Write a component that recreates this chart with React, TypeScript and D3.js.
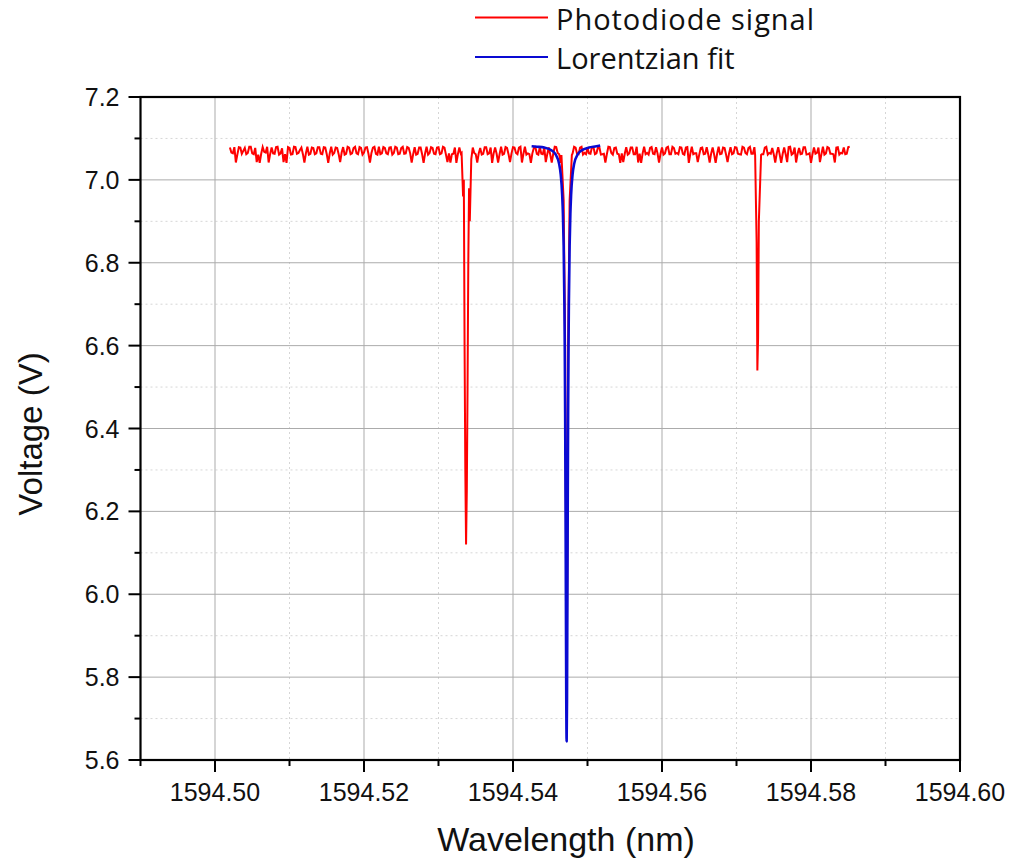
import React from "react";
import * as d3 from "d3";

// ---------- DATA ----------
// Photodiode signal baseline, sweep A: samples every 0.0004 nm starting at 1594.5020 nm
const signalStart = 1594.502;
const signalStep = 0.0004;
const signalValues: number[] = [
  7.078, 7.064, 7.042, 7.079, 7.063, 7.077, 7.065, 7.080, 7.062, 7.043,
  7.041, 7.079, 7.066, 7.042, 7.078, 7.063, 7.080, 7.064, 7.043, 7.041,
  7.077, 7.062, 7.079, 7.065, 7.078, 7.042, 7.080, 7.063, 7.077, 7.064,
  7.079, 7.062, 7.078, 7.041, 7.080, 7.065, 7.077, 7.043, 7.079, 7.063,
  7.078, 7.064, 7.080, 7.062, 7.077, 7.066, 7.079, 7.042, 7.078, 7.063,
  7.080, 7.064, 7.077, 7.062, 7.079, 7.065, 7.078, 7.063, 7.080, 7.064,
  7.077, 7.042, 7.079, 7.063, 7.078, 7.041, 7.080, 7.065, 7.077, 7.062,
  7.079, 7.064, 7.078, 7.043, 7.042, 7.063, 7.041, 7.078, 7.064, 7.079,
  7.062, 7.080, 7.065, 7.042, 7.077, 7.063, 7.079, 7.064, 7.041, 7.078,
  7.042, 7.080, 7.063, 7.077, 7.043, 7.079, 7.065, 7.078, 7.042, 7.080,
  7.064, 7.041, 7.077, 7.063, 7.079, 7.062, 7.043, 7.078, 7.042, 7.080,
  7.065, 7.041, 7.077, 7.063, 7.079, 7.064, 7.078, 7.062, 7.080, 7.065,
  7.077, 7.063, 7.079, 7.064, 7.078, 7.062, 7.042, 7.080, 7.065, 7.077,
  7.063, 7.041, 7.043, 7.079, 7.064, 7.078, 7.062, 7.042, 7.041, 7.080,
  7.065, 7.077, 7.063, 7.079, 7.042, 7.078, 7.064, 7.080, 7.062, 7.077,
  7.065, 7.079, 7.063, 7.078, 7.041, 7.080, 7.064, 7.043, 7.077, 7.062,
  7.079, 7.042, 7.078, 7.041, 7.080, 7.063, 7.077, 7.043, 7.079, 7.064,
  7.078, 7.062, 7.080, 7.065, 7.077, 7.063, 7.079, 7.064, 7.078, 7.062,
  7.080, 7.065, 7.077, 7.042, 7.079, 7.041, 7.078, 7.043, 7.080, 7.064,
  7.042, 7.077, 7.063, 7.079, 7.062, 7.041, 7.078, 7.065, 7.043, 7.080,
  7.064, 7.077, 7.063, 7.042, 7.079, 7.065, 7.078, 7.063, 7.080,
];
// Sweep B: interleaved samples, starting at 1594.5022 nm, same step
const signalStartB = 1594.5022;
const signalValuesB: number[] = [
  7.066, 7.079, 7.061, 7.078, 7.070, 7.062, 7.080, 7.064, 7.077, 7.061,
  7.063, 7.068, 7.080, 7.062, 7.064, 7.079, 7.061, 7.076, 7.062, 7.079,
  7.061, 7.080, 7.063, 7.072, 7.062, 7.064, 7.061, 7.078, 7.062, 7.079,
  7.063, 7.079, 7.062, 7.064, 7.061, 7.078, 7.062, 7.066, 7.061, 7.080,
  7.062, 7.077, 7.064, 7.079, 7.061, 7.078, 7.063, 7.065, 7.080, 7.061,
  7.062, 7.079, 7.064, 7.078, 7.061, 7.080, 7.062, 7.077, 7.063, 7.079,
  7.064, 7.062, 7.061, 7.078, 7.062, 7.064, 7.061, 7.079, 7.063, 7.078,
  7.062, 7.080, 7.061, 7.064, 7.062, 7.078, 7.062, 7.063, 7.061, 7.080,
  7.063, 7.078, 7.062, 7.064, 7.061, 7.079, 7.062, 7.078, 7.064, 7.063,
  7.062, 7.061, 7.079, 7.062, 7.064, 7.078, 7.062, 7.080, 7.063, 7.061,
  7.062, 7.064, 7.079, 7.061, 7.063, 7.078, 7.062, 7.061, 7.063, 7.079,
  7.062, 7.064, 7.061, 7.078, 7.062, 7.080, 7.063, 7.078, 7.061, 7.062,
  7.064, 7.079, 7.062, 7.078, 7.061, 7.063, 7.062, 7.079, 7.061, 7.078,
  7.062, 7.064, 7.063, 7.061, 7.078, 7.062, 7.080, 7.063, 7.064, 7.062,
  7.061, 7.079, 7.062, 7.064, 7.063, 7.061, 7.078, 7.062, 7.080, 7.063,
  7.062, 7.078, 7.061, 7.079, 7.063, 7.062, 7.064, 7.061, 7.078, 7.063,
  7.062, 7.064, 7.061, 7.063, 7.062, 7.078, 7.061, 7.064, 7.062, 7.079,
  7.063, 7.061, 7.078, 7.062, 7.080, 7.063, 7.061, 7.079, 7.062, 7.078,
  7.061, 7.063, 7.062, 7.064, 7.061, 7.063, 7.062, 7.079, 7.061, 7.078,
  7.063, 7.062, 7.079, 7.061, 7.064, 7.062, 7.063, 7.078, 7.062, 7.061,
  7.079, 7.063, 7.062, 7.078, 7.061, 7.064, 7.062, 7.079,
];

// Resonance dips in the photodiode signal: [wavelength nm, voltage V]
const dip1: [number, number][] = [
  [1594.5331, 7.065], [1594.5333, 6.96], [1594.5334, 7.0], [1594.5335, 6.6],
  [1594.5336, 6.3], [1594.5337, 6.12], [1594.5338, 6.25], [1594.5339, 6.5],
  [1594.534, 6.8], [1594.5341, 6.98], [1594.5342, 6.9], [1594.5344, 7.05],
];
const dip2: [number, number][] = [
  [1594.5465, 7.06], [1594.5468, 6.95], [1594.547, 6.6], [1594.5471, 6.2],
  [1594.5472, 5.75], [1594.5473, 6.1], [1594.5474, 6.6], [1594.5476, 6.95],
  [1594.5479, 7.06],
];
const dip3: [number, number][] = [
  [1594.5725, 7.06], [1594.5727, 6.85], [1594.5728, 6.54], [1594.5729, 6.62],
  [1594.573, 6.9], [1594.5733, 7.06],
];

// Lorentzian fit curve points: [wavelength nm, voltage V]
const fitPoints: [number, number][] = [
  [1594.5425, 7.081], [1594.5432, 7.08], [1594.5442, 7.078], [1594.5452, 7.071],
  [1594.5457, 7.062], [1594.5462, 7.038], [1594.5464, 7.014], [1594.5466, 6.964],
  [1594.5467, 6.918], [1594.5468, 6.841], [1594.5469, 6.702], [1594.54695, 6.591],
  [1594.547, 6.439], [1594.54705, 6.233], [1594.5471, 5.983], [1594.54715, 5.746],
  [1594.5472, 5.645],
  [1594.54725, 5.746], [1594.5473, 5.983], [1594.54735, 6.233], [1594.5474, 6.439],
  [1594.54745, 6.591], [1594.5475, 6.702], [1594.5476, 6.841], [1594.5477, 6.918],
  [1594.5478, 6.964], [1594.548, 7.014], [1594.5482, 7.038], [1594.5487, 7.062],
  [1594.5492, 7.071], [1594.5502, 7.078], [1594.5512, 7.081], [1594.5517, 7.083],
];

const xMajorTicks = [1594.5, 1594.52, 1594.54, 1594.56, 1594.58, 1594.6];
const xMinorTicks = [1594.49, 1594.51, 1594.53, 1594.55, 1594.57, 1594.59];
const yMajorTicks = [5.6, 5.8, 6.0, 6.2, 6.4, 6.6, 6.8, 7.0, 7.2];
const yMinorTicks = [5.7, 5.9, 6.1, 6.3, 6.5, 6.7, 6.9, 7.1];

const seriesNames = ["Photodiode signal", "Lorentzian fit"];
const seriesColors = ["#ff0000", "#0a0ad2"];

// ---------- CHART ----------
const W = 1013;
const H = 861;
const L = 140.5, R = 960, T = 97, B = 760;

export default function App() {
  const x = d3.scaleLinear().domain([1594.49, 1594.6]).range([L, R]);
  const y = d3.scaleLinear().domain([5.6, 7.2]).range([B, T]);

  const dips = [dip1, dip2, dip3];
  const inDip = (w: number) =>
    dips.some((d) => w > d[0][0] - 1e-7 && w < d[d.length - 1][0] + 1e-7);
  const sweepA: [number, number][] = signalValues.map(
    (v, i) => [signalStart + i * signalStep, v] as [number, number]
  );
  const sweepB: [number, number][] = signalValuesB.map(
    (v, i) => [signalStartB + i * signalStep, v] as [number, number]
  );
  const signal = sweepA
    .concat(sweepB)
    .filter(([w]) => !inDip(w))
    .concat(dip1, dip2, dip3)
    .sort((a, b) => a[0] - b[0]);

  const lineLinear = d3.line<[number, number]>().x((d) => x(d[0])).y((d) => y(d[1]));
  const lineSmooth = d3
    .line<[number, number]>()
    .x((d) => x(d[0]))
    .y((d) => y(d[1]))
    .curve(d3.curveMonotoneX);

  const axisFont = "'Liberation Sans', Arial, sans-serif";

  return (
    <svg width={W} height={H} style={{ position: "absolute", left: 0, top: 0, background: "#fff" }}>
      <rect x={0} y={0} width={W} height={H} fill="#fff" />
      {/* minor grid */}
      <g stroke="#d6d6d6" strokeWidth={1} strokeDasharray="2,3">
        {xMinorTicks.filter((t) => x(t) > L + 2).map((t) => (
          <line key={"xm" + t} x1={x(t)} x2={x(t)} y1={T} y2={B} />
        ))}
        {yMinorTicks.map((t) => (
          <line key={"ym" + t} x1={L} x2={R} y1={y(t)} y2={y(t)} />
        ))}
      </g>
      {/* major grid */}
      <g stroke="#ababab" strokeWidth={1}>
        {xMajorTicks.filter((t) => x(t) < R - 2).map((t) => (
          <line key={"xg" + t} x1={x(t)} x2={x(t)} y1={T} y2={B} />
        ))}
        {yMajorTicks.filter((t) => y(t) > T + 2 && y(t) < B - 2).map((t) => (
          <line key={"yg" + t} x1={L} x2={R} y1={y(t)} y2={y(t)} />
        ))}
      </g>

      {/* data */}
      <path d={lineLinear(signal) || ""} fill="none" stroke={seriesColors[0]} strokeWidth={2} strokeLinejoin="miter" />
      <path d={lineSmooth(fitPoints) || ""} fill="none" stroke={seriesColors[1]} strokeWidth={2.6} strokeLinejoin="round" />

      {/* frame */}
      <rect x={L} y={T} width={R - L} height={B - T} fill="none" stroke="#000" strokeWidth={2.2} />

      {/* ticks */}
      <g stroke="#000" strokeWidth={2}>
        {yMajorTicks.map((t) => (
          <line key={"yt" + t} x1={L - 12} x2={L} y1={y(t)} y2={y(t)} />
        ))}
        {yMinorTicks.map((t) => (
          <line key={"ymt" + t} x1={L - 6} x2={L} y1={y(t)} y2={y(t)} />
        ))}
        {xMajorTicks.map((t) => (
          <line key={"xt" + t} x1={x(t)} x2={x(t)} y1={B} y2={B + 12} />
        ))}
        {xMinorTicks.map((t) => (
          <line key={"xmt" + t} x1={x(t)} x2={x(t)} y1={B} y2={B + 6} />
        ))}
      </g>

      {/* tick labels */}
      <g fontFamily={axisFont} fontSize={25} fill="#111">
        {yMajorTicks.map((t) => (
          <text key={"yl" + t} x={L - 21} y={y(t)} textAnchor="end" dominantBaseline="central">
            {d3.format(".1f")(t)}
          </text>
        ))}
        {xMajorTicks.map((t) => (
          <text key={"xl" + t} x={x(t)} y={801} textAnchor="middle">
            {d3.format(".2f")(t)}
          </text>
        ))}
      </g>

      {/* axis titles */}
      <text x={566} y={851} textAnchor="middle" fontFamily={axisFont} fontSize={34} fill="#111">
        Wavelength (nm)
      </text>
      <text
        transform={`translate(42, 434) rotate(-90)`}
        textAnchor="middle"
        fontFamily={axisFont}
        fontSize={33}
        fill="#111"
      >
        Voltage (V)
      </text>

      {/* legend */}
      <g fontFamily="'Open Sans', 'Noto Sans', sans-serif" fontSize={29} fill="#111">
        {seriesNames.map((n, i) => (
          <g key={n}>
            <line x1={475} x2={548} y1={17.5 + i * 39.5} y2={17.5 + i * 39.5} stroke={seriesColors[i]} strokeWidth={2} />
            <text x={556} y={29.5 + i * 39} textLength={i === 0 ? 258 : undefined}>{n}</text>
          </g>
        ))}
      </g>
    </svg>
  );
}
